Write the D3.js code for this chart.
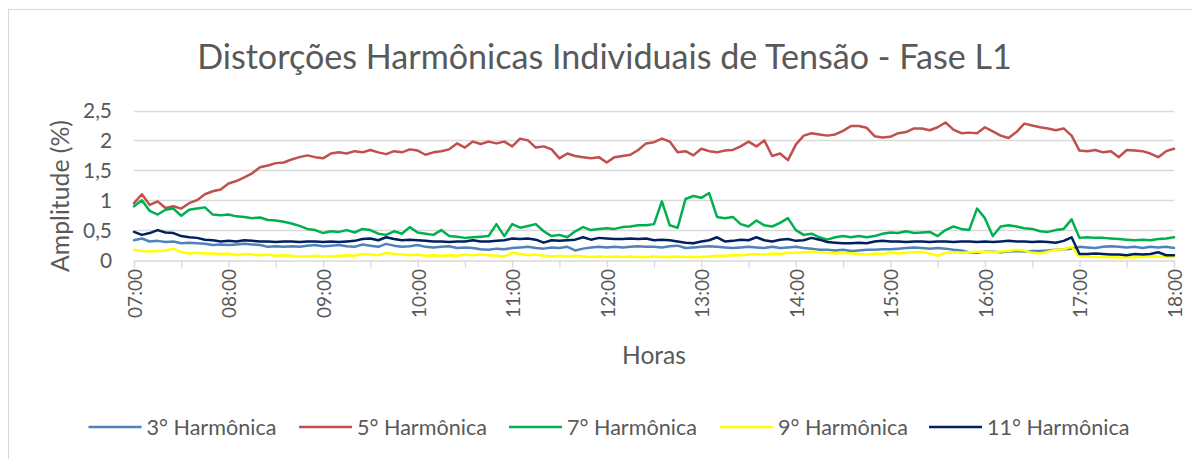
<!DOCTYPE html>
<html><head><meta charset="utf-8">
<script src="https://cdn.jsdelivr.net/npm/d3@7"></script>
<style>
body{margin:0;background:#fff;}
svg text{font-family:Lato,"Open Sans",sans-serif;fill:#595959;}
</style>
</head><body>
<svg id="chart" width="1192" height="459"></svg>
<script>
// ---------------- DATA ----------------
const title = "Distorções Harmônicas Individuais de Tensão - Fase L1";
const xTitle = "Horas";
const yTitle = "Amplitude (%)";
const startMinute = 7 * 60;          // 07:00
const stepMinutes = 5;               // one sample every 5 minutes
const hourLabels = ["07:00","08:00","09:00","10:00","11:00","12:00","13:00","14:00","15:00","16:00","17:00","18:00"];
const yTickValues = [0, 0.5, 1, 1.5, 2, 2.5];
const yTickLabels = ["0","0,5","1","1,5","2","2,5"];
const seriesNames = ["3° Harmônica","5° Harmônica","7° Harmônica","9° Harmônica","11° Harmônica"];
const seriesColors = ["#4F81BD","#C0504D","#00B050","#FFFF00","#002060"];

const h3 = [0.33,0.36,0.31,0.32,0.30,0.31,0.28,0.29,0.28,0.27,0.25,0.26,0.25,0.26,0.27,0.26,0.25,0.22,0.23,0.22,
0.23,0.22,0.24,0.25,0.23,0.24,0.25,0.23,0.22,0.26,0.24,0.22,0.27,0.24,0.22,0.23,0.25,0.22,0.21,0.22,
0.23,0.20,0.21,0.20,0.18,0.17,0.19,0.18,0.20,0.21,0.22,0.20,0.19,0.21,0.20,0.22,0.16,0.19,0.21,0.22,
0.21,0.22,0.21,0.22,0.23,0.22,0.22,0.21,0.23,0.24,0.20,0.21,0.22,0.23,0.22,0.21,0.20,0.21,0.22,0.21,
0.20,0.22,0.20,0.21,0.22,0.20,0.19,0.17,0.17,0.16,0.17,0.15,0.16,0.17,0.17,0.18,0.18,0.19,0.20,0.21,
0.20,0.19,0.20,0.19,0.17,0.16,0.13,0.12,0.14,0.14,0.13,0.14,0.15,0.14,0.15,0.15,0.16,0.17,0.18,0.19,
0.22,0.21,0.20,0.22,0.23,0.22,0.21,0.22,0.20,0.22,0.21,0.22,0.20];

const h5 = [0.95,1.10,0.92,0.98,0.87,0.90,0.86,0.95,1.00,1.10,1.15,1.18,1.28,1.32,1.38,1.45,1.55,1.58,1.62,1.63,
1.68,1.72,1.75,1.72,1.70,1.78,1.80,1.78,1.82,1.80,1.84,1.80,1.77,1.82,1.80,1.85,1.83,1.76,1.80,1.82,
1.85,1.95,1.88,1.98,1.94,1.98,1.95,1.98,1.90,2.03,2.00,1.88,1.90,1.85,1.70,1.78,1.74,1.72,1.70,1.72,
1.63,1.72,1.74,1.76,1.84,1.95,1.97,2.03,1.98,1.80,1.82,1.75,1.86,1.82,1.80,1.83,1.84,1.90,1.98,1.90,
2.00,1.74,1.78,1.67,1.93,2.08,2.12,2.10,2.08,2.10,2.16,2.24,2.24,2.21,2.07,2.05,2.06,2.12,2.14,2.20,
2.20,2.17,2.22,2.30,2.18,2.12,2.13,2.12,2.22,2.15,2.08,2.04,2.14,2.28,2.25,2.22,2.20,2.17,2.20,2.08,
1.83,1.82,1.84,1.80,1.82,1.72,1.84,1.83,1.82,1.78,1.72,1.82,1.86];

const h7 = [0.90,1.00,0.82,0.76,0.84,0.86,0.74,0.84,0.86,0.88,0.76,0.75,0.76,0.73,0.72,0.70,0.71,0.67,0.66,0.64,
0.61,0.57,0.52,0.50,0.45,0.48,0.47,0.50,0.46,0.52,0.50,0.44,0.42,0.48,0.44,0.55,0.46,0.44,0.42,0.50,
0.40,0.39,0.37,0.38,0.39,0.40,0.60,0.40,0.60,0.54,0.57,0.60,0.48,0.40,0.42,0.38,0.48,0.55,0.50,0.52,
0.53,0.52,0.55,0.56,0.58,0.58,0.60,0.98,0.58,0.54,1.02,1.07,1.04,1.12,0.72,0.70,0.72,0.60,0.56,0.66,
0.58,0.56,0.62,0.70,0.50,0.42,0.44,0.38,0.34,0.38,0.40,0.38,0.40,0.38,0.40,0.44,0.46,0.45,0.48,0.45,
0.46,0.47,0.40,0.50,0.56,0.52,0.50,0.86,0.70,0.40,0.56,0.58,0.56,0.53,0.52,0.48,0.47,0.50,0.52,0.68,
0.37,0.38,0.37,0.37,0.36,0.35,0.34,0.33,0.34,0.33,0.35,0.36,0.38];

const h9 = [0.17,0.15,0.14,0.15,0.16,0.19,0.13,0.11,0.12,0.11,0.11,0.10,0.11,0.08,0.10,0.09,0.08,0.09,0.07,0.08,
0.07,0.06,0.06,0.07,0.06,0.06,0.07,0.08,0.07,0.10,0.09,0.08,0.12,0.10,0.09,0.08,0.09,0.07,0.08,0.07,
0.08,0.07,0.09,0.08,0.09,0.08,0.07,0.06,0.12,0.10,0.08,0.09,0.07,0.06,0.07,0.06,0.07,0.06,0.05,0.06,
0.05,0.06,0.05,0.06,0.05,0.05,0.06,0.05,0.05,0.06,0.05,0.05,0.05,0.06,0.07,0.07,0.08,0.08,0.09,0.10,
0.09,0.11,0.10,0.12,0.12,0.13,0.14,0.13,0.12,0.11,0.12,0.11,0.10,0.09,0.11,0.10,0.12,0.11,0.12,0.13,
0.14,0.11,0.07,0.12,0.13,0.12,0.13,0.14,0.14,0.13,0.14,0.15,0.17,0.16,0.12,0.11,0.14,0.17,0.18,0.22,
0.06,0.06,0.05,0.05,0.05,0.04,0.04,0.05,0.05,0.06,0.06,0.05,0.05];

const h11 = [0.47,0.42,0.45,0.50,0.46,0.45,0.40,0.38,0.37,0.34,0.33,0.31,0.32,0.31,0.33,0.32,0.31,0.31,0.30,0.31,
0.31,0.30,0.31,0.31,0.30,0.31,0.30,0.31,0.32,0.35,0.36,0.33,0.38,0.35,0.33,0.34,0.33,0.32,0.31,0.31,
0.30,0.31,0.31,0.33,0.31,0.31,0.32,0.33,0.36,0.35,0.36,0.34,0.29,0.33,0.32,0.33,0.34,0.38,0.34,0.37,
0.36,0.35,0.35,0.36,0.35,0.36,0.33,0.34,0.33,0.31,0.29,0.28,0.31,0.33,0.38,0.31,0.32,0.34,0.33,0.38,
0.33,0.31,0.34,0.35,0.32,0.33,0.37,0.34,0.30,0.29,0.28,0.28,0.29,0.28,0.31,0.32,0.31,0.31,0.30,0.31,
0.31,0.30,0.31,0.31,0.30,0.31,0.31,0.30,0.31,0.30,0.31,0.32,0.31,0.31,0.30,0.31,0.30,0.29,0.32,0.38,
0.10,0.10,0.11,0.10,0.09,0.09,0.08,0.10,0.09,0.10,0.13,0.08,0.08];

const seriesValues = [h3, h5, h7, h9, h11];

// ---------------- CHART ----------------
const svg = d3.select("#chart");
const W = 1192, H = 459;
const plot = {left:134, right:1174, top:110.5, bottom:260};

// scale a text's font-size so its rendered width equals a target width
function fitWidth(sel, target, base) {
  sel.style("font-size", base + "px");
  const w = sel.node().getComputedTextLength();
  sel.style("font-size", (base * target / w) + "px");
  return base * target / w;
}

svg.append("rect").attr("x",8.5).attr("y",9.5).attr("width",W).attr("height",H)
  .attr("fill","#fff").attr("stroke","#D9D9D9").attr("stroke-width",1);

const x = d3.scaleLinear().domain([startMinute, 18*60]).range([plot.left, plot.right]);
const y = d3.scaleLinear().domain([0, 2.5]).range([plot.bottom, plot.top]);

// gridlines
svg.append("g").selectAll("line").data(yTickValues.slice(1)).join("line")
  .attr("x1",plot.left).attr("x2",plot.right)
  .attr("y1",d=>Math.round(y(d))+0.5).attr("y2",d=>Math.round(y(d))+0.5)
  .attr("stroke","#D9D9D9").attr("stroke-width",1.3);

// y labels
const yl = svg.append("g").selectAll("text").data(yTickValues).join("text")
  .attr("x",112).attr("y",d=>y(d)).attr("dy","0.36em")
  .attr("text-anchor","end")
  .text((d,i)=>yTickLabels[i]);
const ySize = fitWidth(yl.filter((d,i)=>i===5), 29, 19);
yl.style("font-size", ySize + "px");

// x axis
const halfHours = d3.range(startMinute, 18*60+1, 30);
const xAxis = d3.axisBottom(x).tickValues(halfHours).tickSize(7).tickFormat("");
const gx = svg.append("g").attr("transform",`translate(0,${Math.round(plot.bottom)+0.5})`).call(xAxis);
gx.select(".domain").attr("stroke","#D9D9D9").attr("stroke-width",1.3);
gx.selectAll(".tick line").attr("stroke","#D9D9D9").attr("stroke-width",1.3);

const xl = svg.append("g").selectAll("text").data(hourLabels).join("text")
  .attr("transform",(d,i)=>`translate(${x(startMinute+i*60)+1},269) rotate(-90)`)
  .attr("dy","0.36em").attr("text-anchor","end")
  .text(d=>d);
const xSize = fitWidth(xl.filter((d,i)=>i===0), 49, 19);
xl.style("font-size", xSize + "px");

// lines
const line = d3.line()
  .x((d,i)=>x(startMinute + i*stepMinutes))
  .y(d=>y(d));
svg.append("g").selectAll("path").data(seriesValues).join("path")
  .attr("d",d=>line(d)).attr("fill","none")
  .attr("stroke",(d,i)=>seriesColors[i]).attr("stroke-width",2.5)
  .attr("stroke-linejoin","round").attr("stroke-linecap","round");

// titles
const tEl = svg.append("text").attr("x",(197+1012)/2).attr("y",57).attr("dy","0.35em")
  .attr("text-anchor","middle").text(title);
fitWidth(tEl, 815, 30);

const ytEl = svg.append("text").attr("transform","translate(60,196) rotate(-90)")
  .attr("dy","0.35em").attr("text-anchor","middle").text(yTitle);
fitWidth(ytEl, 152, 21);
const xtEl = svg.append("text").attr("x",654).attr("y",355).attr("dy","0.35em")
  .attr("text-anchor","middle").text(xTitle);
fitWidth(xtEl, 64, 21);

// legend
const legendStarts = [88.5, 299, 509, 720, 929];
const lg = svg.append("g").selectAll("g").data(seriesNames).join("g")
  .attr("transform",(d,i)=>`translate(${legendStarts[i]},427)`);
lg.append("line").attr("x1",0).attr("x2",53).attr("y1",0).attr("y2",0)
  .attr("stroke",(d,i)=>seriesColors[i]).attr("stroke-width",2.5);
const lt = lg.append("text").attr("x",58).attr("dy","0.36em").text(d=>d);
const lSize = fitWidth(lt.filter((d,i)=>i===0), 130, 19);
lt.style("font-size", lSize + "px");
</script>
</body></html>
